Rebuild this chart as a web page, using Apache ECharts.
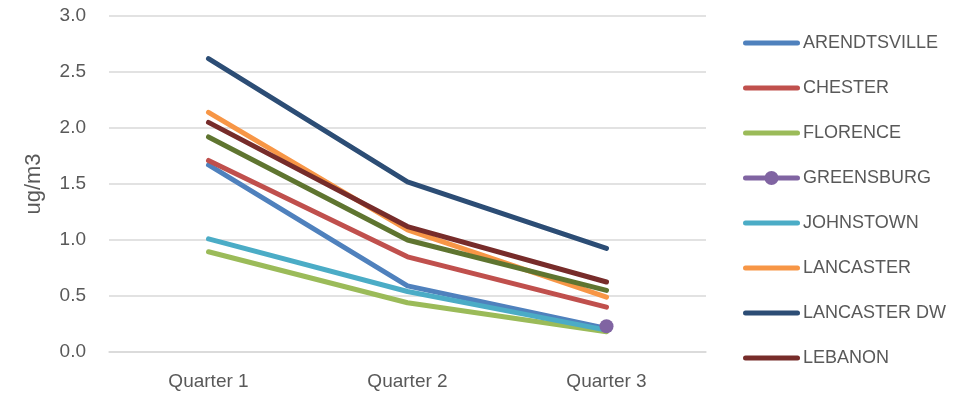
<!DOCTYPE html>
<html>
<head>
<meta charset="utf-8">
<script src="https://cdn.jsdelivr.net/npm/echarts@6/dist/echarts.min.js"></script>
<style>
  html, body { margin: 0; padding: 0; background: #fff; }
  .chart { width: 979px; height: 399px; }
</style>
</head>
<body>
<div class="chart"></div>
<script>
  // 数据
  var quarters = ['Quarter 1', 'Quarter 2', 'Quarter 3'];
  var arendtsville = [1.67, 0.59, 0.21];
  var chester = [1.71, 0.85, 0.40];
  var florence = [0.895, 0.44, 0.18];
  var greensburg = [null, null, 0.23];
  var johnstown = [1.01, 0.54, 0.195];
  var lancaster = [2.14, 1.09, 0.49];
  var lancasterDW = [2.62, 1.52, 0.925];
  var lebanon = [2.05, 1.12, 0.625];
  var ninthSeries = [1.92, 1.0, 0.55]; // 图例里没有显示的那条
  var yTicks = { min: 0, max: 3, interval: 0.5 };

  var font = 'Liberation Sans';
  // 图例图标: 圆头粗线 / 粗线+圆点
  var lineIcon = 'path://M2.5,0 L54.5,0 A2.5,2.5 0 0 1 54.5,5 L2.5,5 A2.5,2.5 0 0 1 2.5,0 Z';
  var dotIcon = 'path://M2.5,4.5 L54.5,4.5 A2.5,2.5 0 0 1 54.5,9.5 L2.5,9.5 A2.5,2.5 0 0 1 2.5,4.5 Z ' +
                'M35.5,7 A7,7 0 1 1 21.5,7 A7,7 0 1 1 35.5,7 Z';

  function line(name, data, color) {
    return {
      name: name,
      type: 'line',
      data: data,
      symbol: 'none',
      lineStyle: { width: 5, color: color, cap: 'round', join: 'round' },
      itemStyle: { color: color },
      emphasis: { disabled: true }
    };
  }

  (function () {
    var myChart = echarts.init(document.querySelector('.chart'));
    var greens = line('GREENSBURG', greensburg, '#8064A2');
    greens.symbol = 'circle';
    greens.symbolSize = 14;
    greens.showSymbol = true;

    var names = ['ARENDTSVILLE', 'CHESTER', 'FLORENCE', 'GREENSBURG', 'JOHNSTOWN',
                 'LANCASTER', 'LANCASTER DW', 'LEBANON'];
    var legendData = names.map(function (n) {
      return { name: n, icon: n === 'GREENSBURG' ? dotIcon : lineIcon };
    });

    var option = {
      animation: false,
      grid: { left: 109, right: 273, top: 16, bottom: 47 },
      legend: {
        orient: 'vertical',
        left: 738,
        top: 29,
        itemWidth: 57,
        itemHeight: 14,
        itemGap: 27,
        itemStyle: { borderWidth: 0 },
        data: legendData,
        textStyle: { color: '#595959', fontSize: 18, fontFamily: font, padding: [0, 0, 0, -2], lineHeight: 18 }
      },
      xAxis: {
        type: 'category',
        data: quarters,
        boundaryGap: true,
        axisLine: { lineStyle: { color: '#d9d9d9', width: 1.5 } },
        axisTick: { show: false },
        axisLabel: { color: '#595959', fontSize: 19, fontFamily: font, margin: 20 }
      },
      yAxis: {
        type: 'value',
        min: yTicks.min,
        max: yTicks.max,
        interval: yTicks.interval,
        name: 'ug/m3',
        nameLocation: 'middle',
        nameGap: 64,
        nameRotate: 90,
        nameTextStyle: { color: '#595959', fontSize: 22, fontFamily: font },
        axisLine: { show: false },
        axisTick: { show: false },
        splitLine: { lineStyle: { color: '#d9d9d9', width: 1.5 } },
        axisLabel: {
          color: '#595959', fontSize: 19, fontFamily: font, margin: 23,
          formatter: function (v) { return v.toFixed(1); }
        }
      },
      series: [
        line('ARENDTSVILLE', arendtsville, '#4F81BD'),
        line('CHESTER', chester, '#C0504D'),
        line('FLORENCE', florence, '#9BBB59'),
        greens,
        line('JOHNSTOWN', johnstown, '#4BACC6'),
        line('LANCASTER', lancaster, '#F79646'),
        line('LANCASTER DW', lancasterDW, '#2C4D75'),
        line('LEBANON', lebanon, '#772C2A'),
        line('SERIES 9', ninthSeries, '#5F7530')
      ]
    };
    myChart.setOption(option);
  })();
</script>
</body>
</html>
